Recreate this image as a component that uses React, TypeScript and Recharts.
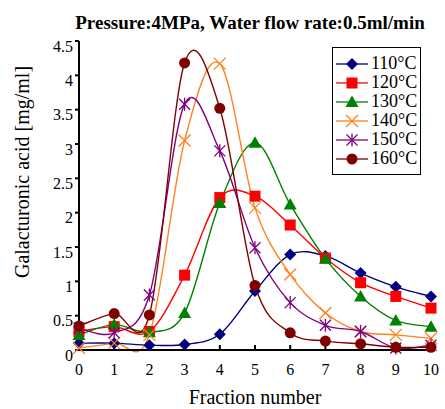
import { LineChart, Line, XAxis, YAxis, Legend } from "recharts";

const fractions = [0, 1, 2, 3, 4, 5, 6, 7, 8, 9, 10];
const yTicks = [0, 0.5, 1, 1.5, 2, 2.5, 3, 3.5, 4, 4.5];

const t110 = [0.1, 0.1, 0.07, 0.08, 0.23, 0.86, 1.39, 1.37, 1.12, 0.92, 0.78];
const t120 = [0.27, 0.34, 0.27, 1.09, 2.22, 2.24, 1.82, 1.34, 0.98, 0.78, 0.61];
const t130 = [0.22, 0.37, 0.26, 0.54, 2.14, 3.02, 2.12, 1.33, 0.78, 0.43, 0.34];
const t140 = [0.03, 0.1, 0.22, 3.05, 4.17, 2.07, 1.1, 0.54, 0.27, 0.22, 0.17];
const t150 = [0.32, 0.25, 0.8, 3.58, 2.9, 1.49, 0.69, 0.36, 0.27, 0.03, 0.07];
const t160 = [0.35, 0.53, 0.51, 4.18, 3.52, 0.94, 0.25, 0.13, 0.09, 0.04, 0.04];

const series = [
  { key: "t110", name: "110°C", color: "#000080", shape: "diamond", values: t110 },
  { key: "t120", name: "120°C", color: "#ff0000", shape: "square", values: t120 },
  { key: "t130", name: "130°C", color: "#008000", shape: "triangle", values: t130 },
  { key: "t140", name: "140°C", color: "#ff8020", shape: "x", values: t140 },
  { key: "t150", name: "150°C", color: "#800080", shape: "star", values: t150 },
  { key: "t160", name: "160°C", color: "#800000", shape: "circle", values: t160 },
];

const data = fractions.map((f, i) => {
  const row: Record<string, number> = { fraction: f };
  series.forEach(s => { row[s.key] = s.values[i]; });
  return row;
});

const FONT = "Liberation Serif";

// Excel-like smoothed line (Catmull-Rom through the points)
function smooth(context: any) {
  let pts: number[][] = [];
  return {
    areaStart() {},
    areaEnd() {},
    lineStart() { pts = []; },
    point(x: number, y: number) { pts.push([+x, +y]); },
    lineEnd() {
      if (!pts.length) return;
      context.moveTo(pts[0][0], pts[0][1]);
      for (let i = 0; i < pts.length - 1; i++) {
        const p0 = pts[i - 1] || pts[i];
        const p1 = pts[i];
        const p2 = pts[i + 1];
        const p3 = pts[i + 2] || p2;
        context.bezierCurveTo(
          p1[0] + (p2[0] - p0[0]) / 6, p1[1] + (p2[1] - p0[1]) / 6,
          p2[0] - (p3[0] - p1[0]) / 6, p2[1] - (p3[1] - p1[1]) / 6,
          p2[0], p2[1]
        );
      }
    },
  };
}

function Marker({ shape, cx, cy, color }: { shape: string; cx: number; cy: number; color: string }) {
  switch (shape) {
    case "diamond":
      return <polygon points={`${cx},${cy - 6} ${cx + 6},${cy} ${cx},${cy + 6} ${cx - 6},${cy}`} fill={color} />;
    case "square":
      return <rect x={cx - 5.5} y={cy - 5.5} width={11} height={11} fill={color} />;
    case "triangle":
      return <polygon points={`${cx},${cy - 6.5} ${cx + 6.5},${cy + 5} ${cx - 6.5},${cy + 5}`} fill={color} />;
    case "x":
      return (
        <g stroke={color} strokeWidth={1.3}>
          <line x1={cx - 6} y1={cy - 6} x2={cx + 6} y2={cy + 6} />
          <line x1={cx - 6} y1={cy + 6} x2={cx + 6} y2={cy - 6} />
        </g>
      );
    case "star":
      return (
        <g stroke={color} strokeWidth={1.3}>
          <line x1={cx - 5.5} y1={cy - 5.5} x2={cx + 5.5} y2={cy + 5.5} />
          <line x1={cx - 5.5} y1={cy + 5.5} x2={cx + 5.5} y2={cy - 5.5} />
          <line x1={cx} y1={cy - 6.5} x2={cx} y2={cy + 6.5} />
        </g>
      );
    default:
      return <circle cx={cx} cy={cy} r={5.5} fill={color} />;
  }
}

function LegendBox() {
  return (
    <div style={{ border: "1.5px solid #000", background: "#fff", padding: "6px 0 6px 2px", fontFamily: FONT, fontSize: 18, lineHeight: "19px" }}>
      {series.map(s => (
        <div key={s.key} style={{ display: "flex", alignItems: "center", height: 19 }}>
          <svg width={34} height={19}>
            <line x1={1} y1={10} x2={33} y2={10} stroke={s.color} strokeWidth={1.3} />
            <Marker shape={s.shape} cx={17} cy={10} color={s.color} />
          </svg>
          <span style={{ marginLeft: 2 }}>{s.name}</span>
        </div>
      ))}
    </div>
  );
}

export default function App() {
  return (
    <div style={{ position: "absolute", left: 0, top: 0, width: 445, height: 409, background: "#fff", fontFamily: FONT }}>
      <div style={{ position: "absolute", left: 55, width: 390, top: 12, textAlign: "center", fontFamily: FONT, fontWeight: "bold", fontSize: 19 }}>
        Pressure:4MPa, Water flow rate:0.5ml/min
      </div>
      <LineChart width={445} height={409} data={data} margin={{ top: 41, right: 14, bottom: 0, left: 0 }} style={{ fontFamily: FONT }}>
        <XAxis dataKey="fraction" type="number" domain={[0, 10]} ticks={fractions} interval={0}
          stroke="#000" strokeWidth={2} tickSize={-5} tickMargin={19} height={59}
          tick={{ fill: "#000", fontSize: 16, fontFamily: FONT }}
          label={{ value: "Fraction number", position: "insideBottom", offset: 5, fill: "#000", fontSize: 20, fontFamily: FONT }} />
        <XAxis xAxisId="top" orientation="top" dataKey="fraction" type="number" domain={[0, 10]}
          stroke="#000" strokeWidth={2} tick={false} tickLine={false} height={0} />
        <YAxis type="number" domain={[0, 4.5]} ticks={yTicks} interval={0} width={79}
          stroke="#000" strokeWidth={2} tickSize={4} tickMargin={2}
          tick={{ fill: "#000", fontSize: 16, fontFamily: FONT, dy: 5 }}
          label={{
            content: () => (
              <text x={22} y={172} transform="rotate(-90 22 172)" textAnchor="middle" dominantBaseline="central"
                fill="#000" fontSize={20} fontFamily={FONT}>Galacturonic acid [mg/ml]</text>
            ),
          }} />
        <YAxis yAxisId="right" orientation="right" type="number" domain={[0, 4.5]}
          stroke="#000" strokeWidth={2} tick={false} tickLine={false} width={0} />
        <Legend layout="vertical" align="center" verticalAlign="middle"
          wrapperStyle={{ top: 47, left: 332, width: 89 }} content={() => <LegendBox />} />
        {series.map(s => (
          <Line key={s.key} dataKey={s.key} name={s.name} type={smooth as any} stroke={s.color} strokeWidth={1.4}
            isAnimationActive={false}
            dot={(p: any) => <Marker key={`${s.key}-${p.index}`} shape={s.shape} cx={p.cx} cy={p.cy} color={s.color} />}
            activeDot={false} />
        ))}
      </LineChart>
    </div>
  );
}
